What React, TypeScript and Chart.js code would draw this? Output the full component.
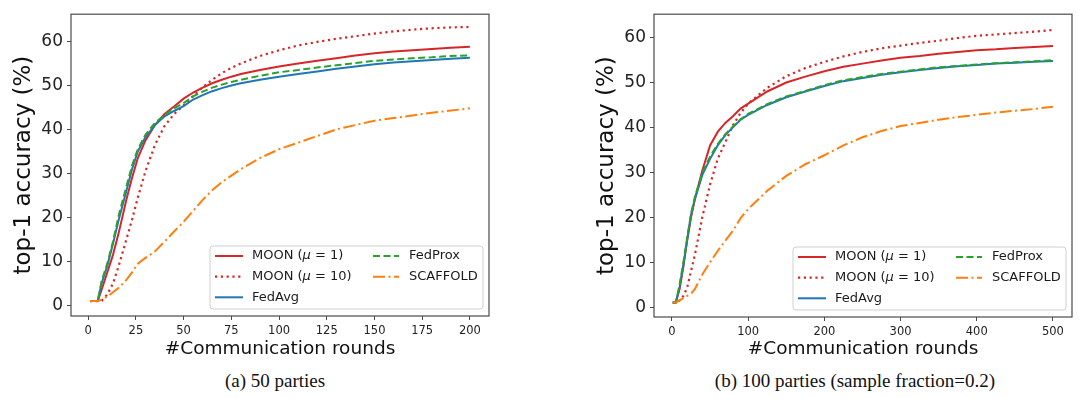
import React, { useEffect, useRef } from "react";
import { Chart, registerables } from "chart.js";

Chart.register(...registerables);

// ---------- (a) 50 parties ----------
const roundsA = [1, 5, 7, 10, 13, 16, 20, 23, 26, 30, 35, 40, 45, 50, 55, 60, 65, 70, 75, 80, 90, 100, 110, 120, 130, 140, 150, 160, 170, 180, 190, 200];
const moon1A = [1, 1, 3.5, 7.5, 11.5, 16.5, 24, 29, 33.5, 37.5, 41, 43.5, 45.2, 47, 48.4, 49.5, 50.5, 51.3, 52, 52.6, 53.5, 54.3, 55, 55.6, 56.2, 56.8, 57.3, 57.7, 58, 58.3, 58.6, 58.8];
const moon10A = [1, 1, 1, 2.5, 5, 9, 15, 19.5, 24.5, 30.5, 36.5, 40.8, 43.5, 45.5, 47.6, 49.6, 51.3, 52.8, 54, 55, 56.7, 58, 59.1, 59.9, 60.6, 61.2, 61.8, 62.3, 62.7, 63, 63.2, 63.3];
const fedAvgA = [1, 1, 5, 9, 14, 19.5, 26, 31, 35, 38.3, 41, 43, 44.2, 45.3, 46.8, 47.8, 48.7, 49.4, 50, 50.5, 51.3, 52, 52.6, 53.2, 53.8, 54.3, 54.8, 55.2, 55.5, 55.8, 56.1, 56.3];
const fedProxA = [1, 1, 5.5, 9.5, 14.5, 20.5, 27, 31.8, 35.5, 38.8, 41.5, 43.3, 44.8, 46, 47.5, 48.6, 49.5, 50.2, 50.8, 51.3, 52.2, 53, 53.5, 54.1, 54.6, 55.1, 55.6, 55.9, 56.2, 56.4, 56.7, 56.8];
const scaffoldA = [1, 1, 1.3, 2, 3, 4, 5.8, 7.5, 9.5, 10.8, 12.3, 14.5, 16.8, 19, 21.5, 24, 26.2, 28, 29.5, 31, 33.5, 35.5, 37, 38.5, 40, 41, 42, 42.6, 43.2, 43.8, 44.3, 44.8];
const xTicksA = [0, 25, 50, 75, 100, 125, 150, 175, 200];

// ---------- (b) 100 parties (sample fraction=0.2) ----------
const roundsB = [1, 5, 10, 15, 20, 25, 30, 40, 50, 60, 70, 80, 90, 100, 125, 150, 175, 200, 225, 250, 275, 300, 325, 350, 375, 400, 425, 450, 475, 500];
const moon1B = [1, 1, 4, 9, 15, 20, 24, 30.5, 36, 39, 41, 42.5, 44.2, 45.3, 48, 50, 51.3, 52.5, 53.5, 54.2, 54.9, 55.5, 55.9, 56.4, 56.8, 57.2, 57.4, 57.7, 57.9, 58.1];
const moon10B = [1, 1, 1.5, 2.5, 4.4, 8, 11.6, 20.2, 27.3, 33, 36.7, 40.5, 43.2, 45.3, 48.8, 51.4, 53.2, 54.6, 55.8, 56.8, 57.6, 58.2, 58.8, 59.3, 59.9, 60.4, 60.7, 61, 61.3, 61.7];
const fedAvgB = [1, 1, 4.5, 9.5, 15, 20.5, 24, 29.5, 33, 36, 38.3, 40, 41.7, 42.8, 45, 46.7, 48, 49.2, 50.3, 51, 51.7, 52.3, 52.8, 53.2, 53.6, 53.9, 54.2, 54.4, 54.6, 54.8];
const fedProxB = [1, 1, 5, 10, 15.5, 20.8, 24.5, 30, 33.5, 36.3, 38.5, 40.2, 41.8, 43, 45.2, 46.9, 48.1, 49.4, 50.5, 51.2, 51.9, 52.4, 52.9, 53.4, 53.7, 54, 54.3, 54.5, 54.7, 55];
const scaffoldB = [1, 1, 1.5, 2, 2.5, 3, 4, 7.3, 10, 12.5, 14.8, 17, 19.8, 21.8, 25.9, 29.2, 31.8, 33.8, 36, 37.8, 39.2, 40.3, 41, 41.7, 42.3, 42.8, 43.3, 43.7, 44.1, 44.6];
const xTicksB = [0, 100, 200, 300, 400, 500];

const yTicks = [0, 10, 20, 30, 40, 50, 60];
const seriesNames = ["MOON (μ = 1)", "MOON (μ = 10)", "FedAvg", "FedProx", "SCAFFOLD"];

const STYLES = [
  { color: "#d62728", dash: [] as number[], width: 2 },
  { color: "#d62728", dash: [2.2, 3.6], width: 2.2 },
  { color: "#1f77b4", dash: [] as number[], width: 2 },
  { color: "#2ca02c", dash: [7, 3.5], width: 2 },
  { color: "#ff7f0e", dash: [12, 3.5, 2, 3.5], width: 2 },
];

const FONT = "'DejaVu Sans', sans-serif";
Chart.defaults.font.family = FONT;

function drawLabel(ctx: CanvasRenderingContext2D, text: string, x: number, y: number) {
  const i = text.indexOf("μ");
  ctx.font = `13px ${FONT}`;
  if (i < 0) {
    ctx.fillText(text, x, y);
    return;
  }
  const pre = text.slice(0, i);
  const post = text.slice(i + 1);
  ctx.fillText(pre, x, y);
  x += ctx.measureText(pre).width;
  ctx.font = `italic 13px ${FONT}`;
  ctx.fillText("μ", x, y);
  x += ctx.measureText("μ").width;
  ctx.font = `13px ${FONT}`;
  ctx.fillText(post, x, y);
}

const framePlugin = {
  id: "frameAndLegend",
  afterDatasetsDraw(chart: any) {
    const { ctx, chartArea: a } = chart;
    ctx.save();
    // spines
    ctx.strokeStyle = "#4a4a4a";
    ctx.lineWidth = 1.2;
    ctx.strokeRect(a.left, a.top, a.right - a.left, a.bottom - a.top);

    // legend
    const W = 273;
    const H = 63;
    const x0 = a.right - 6 - W;
    const y0 = a.bottom - 7 - H;
    ctx.beginPath();
    const r = 3;
    ctx.moveTo(x0 + r, y0);
    ctx.lineTo(x0 + W - r, y0);
    ctx.quadraticCurveTo(x0 + W, y0, x0 + W, y0 + r);
    ctx.lineTo(x0 + W, y0 + H - r);
    ctx.quadraticCurveTo(x0 + W, y0 + H, x0 + W - r, y0 + H);
    ctx.lineTo(x0 + r, y0 + H);
    ctx.quadraticCurveTo(x0, y0 + H, x0, y0 + H - r);
    ctx.lineTo(x0, y0 + r);
    ctx.quadraticCurveTo(x0, y0, x0 + r, y0);
    ctx.closePath();
    ctx.fillStyle = "rgba(255,255,255,0.85)";
    ctx.fill();
    ctx.strokeStyle = "#d0d0d0";
    ctx.lineWidth = 1;
    ctx.stroke();

    const rows = [10, 30.7, 51.3];
    const place = [
      { col: 0, row: 0 },
      { col: 0, row: 1 },
      { col: 0, row: 2 },
      { col: 1, row: 0 },
      { col: 1, row: 1 },
    ];
    const cols = [
      { l0: 5, l1: 33, t: 42 },
      { l0: 163, l1: 189, t: 199 },
    ];
    place.forEach((p, i) => {
      const c = cols[p.col];
      const yc = y0 + rows[p.row];
      ctx.beginPath();
      ctx.setLineDash(STYLES[i].dash);
      ctx.strokeStyle = STYLES[i].color;
      ctx.lineWidth = STYLES[i].width;
      ctx.moveTo(x0 + c.l0, yc);
      ctx.lineTo(x0 + c.l1, yc);
      ctx.stroke();
      ctx.setLineDash([]);
      ctx.fillStyle = "#1a1a1a";
      ctx.textBaseline = "middle";
      ctx.textAlign = "left";
      drawLabel(ctx, seriesNames[i], x0 + c.t, yc);
    });
    ctx.restore();
  },
};

type PanelProps = {
  rounds: number[];
  series: number[][];
  xMin: number;
  xMax: number;
  yMin: number;
  yMax: number;
  xTicks: number[];
  yAxisWidth: number;
  yTitlePad: number;
  rightPad: number;
  xAxisHeight: number;
  xTitlePadBottom: number;
  left: number;
};

function Panel(p: PanelProps) {
  const ref = useRef<HTMLCanvasElement>(null);
  useEffect(() => {
    const datasets = p.series.map((vals, i) => ({
      label: seriesNames[i],
      data: p.rounds.map((r, j) => ({ x: r, y: vals[j] })),
      borderColor: STYLES[i].color,
      backgroundColor: STYLES[i].color,
      borderDash: STYLES[i].dash,
      borderWidth: STYLES[i].width,
      pointRadius: 0,
      tension: 0,
      fill: false,
      order: 5 - i,
    }));
    const chart = new Chart(ref.current as HTMLCanvasElement, {
      type: "line",
      data: { datasets },
      options: {
        animation: false,
        responsive: false,
        devicePixelRatio: 1,
        layout: { padding: { top: 5, right: p.rightPad, bottom: 0, left: 0 } },
        plugins: { legend: { display: false }, tooltip: { enabled: false } },
        scales: {
          x: {
            type: "linear",
            min: p.xMin,
            max: p.xMax,
            afterBuildTicks: (s: any) => {
              s.ticks = p.xTicks.map((v) => ({ value: v }));
            },
            afterFit: (s: any) => {
              s.height = p.xAxisHeight;
            },
            grid: { drawOnChartArea: false, drawTicks: true, tickLength: 4, color: "#4a4a4a", lineWidth: 1 },
            border: { display: false },
            ticks: {
              font: { size: 11.5 },
              color: "#222",
              padding: 4,
              maxRotation: 0,
              autoSkip: false,
              callback: (v: any) => String(v),
            },
            title: {
              display: true,
              text: "#Communication rounds",
              font: { size: 18.5 },
              color: "#111",
              padding: { top: 0, bottom: p.xTitlePadBottom },
            },
          },
          y: {
            type: "linear",
            min: p.yMin,
            max: p.yMax,
            afterBuildTicks: (s: any) => {
              s.ticks = yTicks.map((v) => ({ value: v }));
            },
            afterFit: (s: any) => {
              s.width = p.yAxisWidth;
            },
            grid: { drawOnChartArea: false, drawTicks: true, tickLength: 4, color: "#4a4a4a", lineWidth: 1 },
            border: { display: false },
            ticks: {
              font: { size: 17 },
              color: "#222",
              padding: 4,
              autoSkip: false,
              callback: (v: any) => String(v),
            },
            title: {
              display: true,
              text: "top-1 accuracy (%)",
              font: { size: 23 },
              color: "#111",
              padding: { top: p.yTitlePad, bottom: 0 },
            },
          },
        },
      },
      plugins: [framePlugin],
    } as any);
    return () => chart.destroy();
  }, []);
  return (
    <canvas
      ref={ref}
      width={540}
      height={365}
      style={{ position: "absolute", left: p.left, top: 0, width: 540, height: 365 }}
    />
  );
}

const captionStyle: React.CSSProperties = {
  position: "absolute",
  top: 370,
  width: 400,
  textAlign: "center",
  fontFamily: "'Liberation Serif', 'Times New Roman', serif",
  fontSize: 19,
  lineHeight: "22px",
  color: "#111",
  whiteSpace: "nowrap",
};

export default function App() {
  return (
    <div style={{ position: "absolute", left: 0, top: 0, width: 1080, height: 398, background: "#fff", overflow: "hidden" }}>
      <Panel
        rounds={roundsA}
        series={[moon1A, moon10A, fedAvgA, fedProxA, scaffoldA]}
        xMin={-9}
        xMax={210}
        yMin={-2.4}
        yMax={66.2}
        xTicks={xTicksA}
        yAxisWidth={71}
        yTitlePad={10}
        rightPad={51}
        xAxisHeight={49}
        xTitlePadBottom={5}
        left={0}
      />
      <Panel
        rounds={roundsB}
        series={[moon1B, moon10B, fedAvgB, fedProxB, scaffoldB]}
        xMin={-23.6}
        xMax={525}
        yMin={-2.2}
        yMax={65.2}
        xTicks={xTicksB}
        yAxisWidth={114}
        yTitlePad={53}
        rightPad={8}
        xAxisHeight={48}
        xTitlePadBottom={5}
        left={540}
      />
      <div style={{ ...captionStyle, left: 275 - 200 }}>(a) 50 parties</div>
      <div style={{ ...captionStyle, left: 855 - 200 }}>(b) 100 parties (sample fraction=0.2)</div>
    </div>
  );
}
